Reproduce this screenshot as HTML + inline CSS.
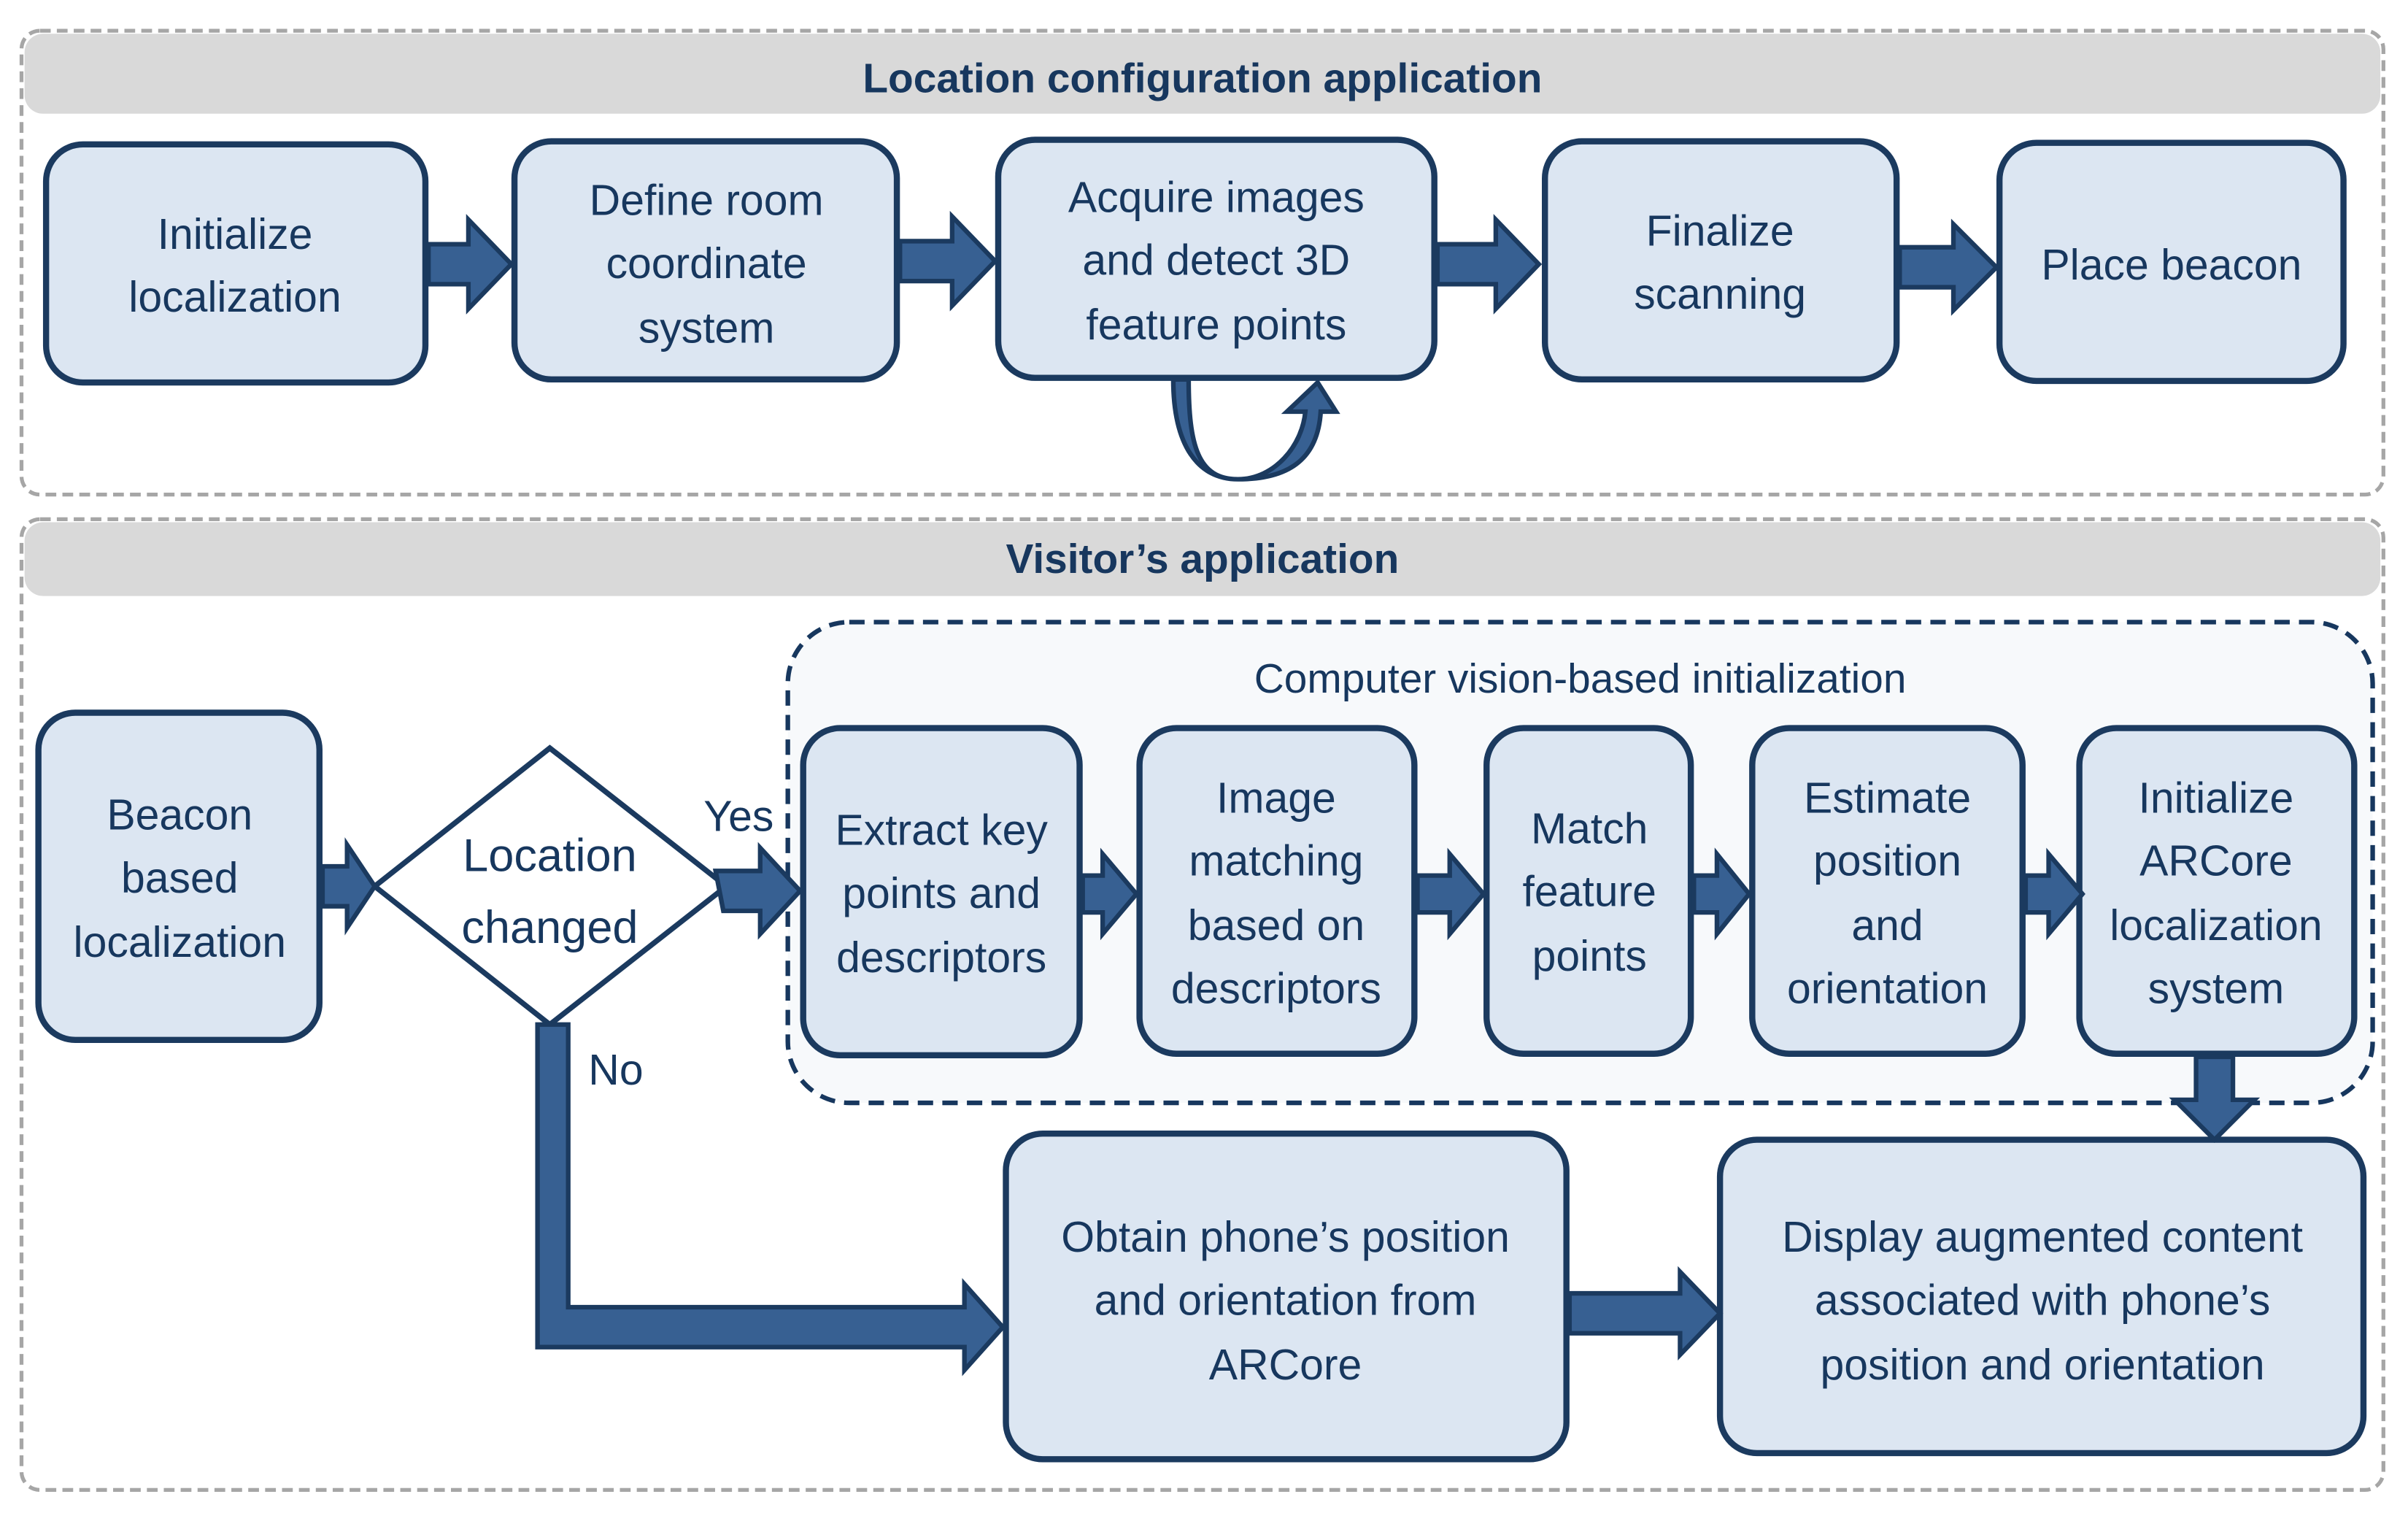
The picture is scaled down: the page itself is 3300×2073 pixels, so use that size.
<!DOCTYPE html>
<html><head><meta charset="utf-8"><style>
html,body{margin:0;padding:0;background:#fff}
svg{display:block}
text{font-family:"Liberation Sans",sans-serif;fill:#17375e}
</style></head><body>
<svg width="3300" height="2073" viewBox="0 0 1568 985" xmlns="http://www.w3.org/2000/svg">
<g fill="none" stroke="#a6a6a6" stroke-width="2.5" stroke-dasharray="7,4">
<rect x="14" y="20" width="1538" height="302" rx="12"/>
<rect x="14" y="338" width="1538" height="632" rx="12"/>
</g>
<rect x="16" y="22" width="1534" height="52" rx="12" fill="#d9d9d9"/>
<rect x="16" y="340" width="1534" height="48" rx="12" fill="#d9d9d9"/>
<text x="783" y="60" font-size="27" font-weight="bold" text-anchor="middle">Location configuration application</text>
<text x="783" y="373" font-size="27" font-weight="bold" text-anchor="middle">Visitor’s application</text>

<rect x="513" y="405" width="1032" height="313" rx="40" fill="#f7f9fb" stroke="#17375e" stroke-width="3" stroke-dasharray="10,6"/>
<text x="1029" y="451" font-size="27" text-anchor="middle">Computer vision-based initialization</text>

<g fill="#dce6f2" stroke="#1b3a5f" stroke-width="4">
<rect x="30" y="94" width="247" height="155" rx="24"/>
<rect x="335" y="92" width="249" height="155" rx="24"/>
<rect x="650" y="91" width="284" height="155" rx="24"/>
<rect x="1006" y="92" width="229" height="155" rx="24"/>
<rect x="1302" y="93" width="224" height="155" rx="24"/>
<rect x="25" y="464" width="183" height="213" rx="24"/>
<rect x="523" y="474" width="180" height="213" rx="24"/>
<rect x="742" y="474" width="179" height="212" rx="24"/>
<rect x="968" y="474" width="133" height="212" rx="24"/>
<rect x="1141" y="474" width="176" height="212" rx="24"/>
<rect x="1354" y="474" width="179" height="212" rx="24"/>
<rect x="655" y="738" width="365" height="212" rx="24"/>
<rect x="1120" y="742" width="419" height="204" rx="24"/>
</g>
<polygon points="358,487 473,577 358,667 244,577" fill="#fff" stroke="#1b3a5f" stroke-width="3.5"/>

<g fill="#376092" stroke="#1b3a5f" stroke-width="3" stroke-linejoin="miter">
<polygon points="279,159 305,159 305,143 333,172 305,201 305,185 279,185"/>
<polygon points="586,157 620,157 620,141 648,170 620,199 620,183 586,183"/>
<polygon points="936,159 974,159 974,143 1002,172 974,201 974,185 936,185"/>
<polygon points="1237,161 1272,161 1272,146 1300,174 1272,202 1272,187 1237,187"/>
<polygon points="210,564 226,564 226,550 244,577 226,604 226,590 210,590"/>
<polygon points="466,567 495,567 495,552 521,580 495,608 495,593 471,593"/>
<polygon points="705,570 718,570 718,556 740,582 718,608 718,594 705,594"/>
<polygon points="923,570 944,570 944,556 966,582 944,608 944,594 923,594"/>
<polygon points="1103,570 1118,570 1118,556 1139,582 1118,608 1118,594 1103,594"/>
<polygon points="1319,570 1334,570 1334,556 1356,582 1334,608 1334,594 1319,594"/>
<polygon points="1430,688 1454,688 1454,716 1468,716 1442,742 1416,716 1430,716"/>
<polygon points="1022,842 1094,842 1094,828 1120,855 1094,882 1094,868 1022,868"/>
<polygon points="350,667 370,667 370,851 628,851 628,836 653,864 628,892 628,877 350,877"/>
<path d="M764,247 C764,290 780,312 806,312 C830,312 848,290 850,268 L838,268 L858,249 L870,268 L860,268 C858,300 838,312 806,312 C780,312 774,290 774,247 Z"/>
</g>

<g font-size="28" text-anchor="middle">
<text x="153" y="162">Initialize</text><text x="153" y="203">localization</text>
<text x="460" y="140">Define room</text><text x="460" y="181">coordinate</text><text x="460" y="223">system</text>
<text x="792" y="138">Acquire images</text><text x="792" y="179">and detect 3D</text><text x="792" y="221">feature points</text>
<text x="1120" y="160">Finalize</text><text x="1120" y="201">scanning</text>
<text x="1414" y="182">Place beacon</text>
<text x="117" y="540">Beacon</text><text x="117" y="581">based</text><text x="117" y="623">localization</text>
<text x="358" y="567" font-size="30">Location</text><text x="358" y="614" font-size="30">changed</text>
<text x="481" y="541">Yes</text>
<text x="401" y="706">No</text>
<text x="613" y="550">Extract key</text><text x="613" y="591">points and</text><text x="613" y="633">descriptors</text>
<text x="831" y="529">Image</text><text x="831" y="570">matching</text><text x="831" y="612">based on</text><text x="831" y="653">descriptors</text>
<text x="1035" y="549">Match</text><text x="1035" y="590">feature</text><text x="1035" y="632">points</text>
<text x="1229" y="529">Estimate</text><text x="1229" y="570">position</text><text x="1229" y="612">and</text><text x="1229" y="653">orientation</text>
<text x="1443" y="529">Initialize</text><text x="1443" y="570">ARCore</text><text x="1443" y="612">localization</text><text x="1443" y="653">system</text>
<text x="837" y="815">Obtain phone’s position</text><text x="837" y="856">and orientation from</text><text x="837" y="898">ARCore</text>
<text x="1330" y="815">Display augmented content</text><text x="1330" y="856">associated with phone’s</text><text x="1330" y="898">position and orientation</text>
</g>
</svg>
</body></html>
